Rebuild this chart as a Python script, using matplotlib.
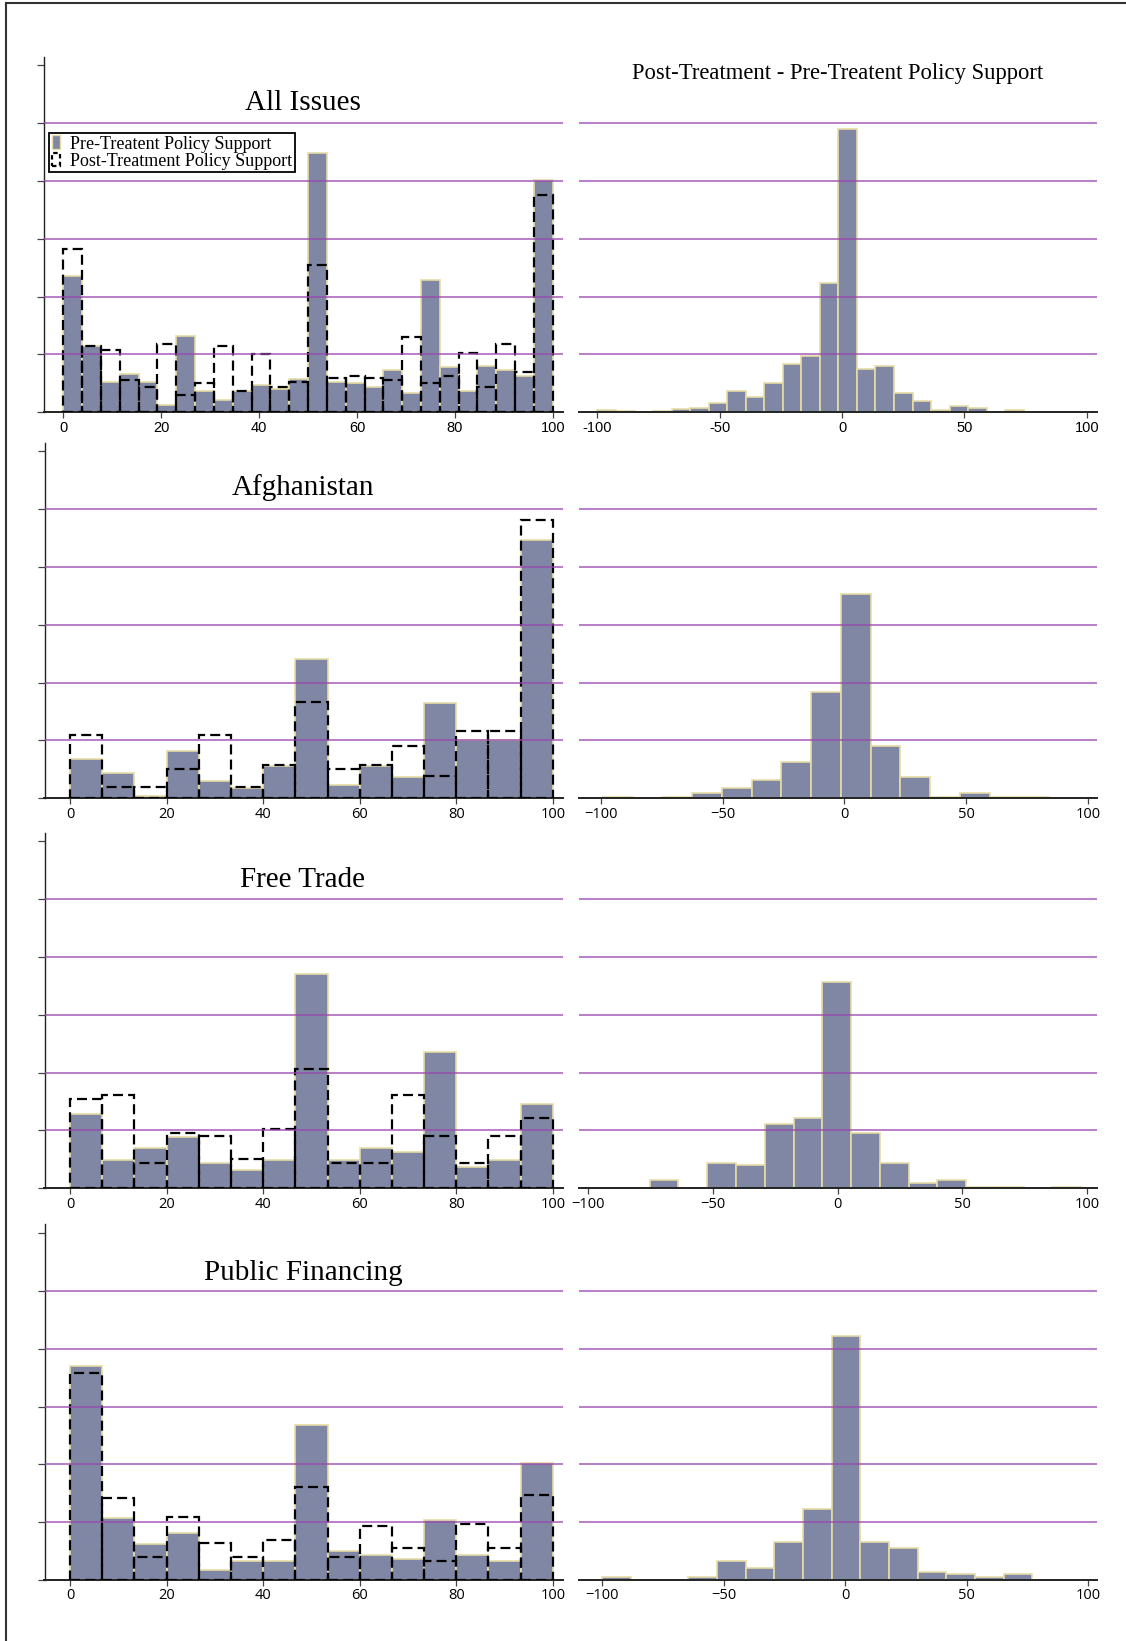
import numpy as np
import matplotlib.pyplot as plt
from matplotlib.patches import Patch
from matplotlib.lines import Line2D

# heights, in gridline units (gridlines at 1..5)
all_pre = [2.35, 1.14, 0.53, 0.66, 0.53, 0.13, 1.32, 0.36, 0.21, 0.36, 0.47, 0.41, 0.57,
           4.49, 0.53, 0.50, 0.44, 0.73, 0.33, 2.29, 0.79, 0.36, 0.80, 0.73, 0.63, 4.02]
all_post = [2.82, 1.15, 1.07, 0.56, 0.44, 1.18, 0.30, 0.51, 1.15, 0.36, 1.01, 0.43, 0.53,
            2.55, 0.59, 0.63, 0.59, 0.56, 1.31, 0.51, 0.63, 1.03, 0.44, 1.18, 0.70, 3.75]
all_diff = [0.04, 0.03, 0.0, 0.02, 0.06, 0.075, 0.16, 0.36, 0.27, 0.51, 0.84, 0.97, 2.24,
            4.90, 0.75, 0.80, 0.34, 0.20, 0.04, 0.11, 0.075, 0.01, 0.04, 0.01, 0.01, 0.01]

afg_pre = [0.68, 0.43, 0.04, 0.82, 0.30, 0.17, 0.56, 2.41, 0.23, 0.56, 0.37, 1.64, 1.01, 1.01, 4.47]
afg_post = [1.10, 0.20, 0.20, 0.51, 1.10, 0.20, 0.58, 1.66, 0.51, 0.58, 0.90, 0.39, 1.16, 1.16, 4.81]
afg_diff = [0.03, 0.0, 0.03, 0.09, 0.17, 0.31, 0.62, 1.84, 3.54, 0.90, 0.37, 0.02, 0.10, 0.02, 0.02]

ft_pre = [1.28, 0.49, 0.69, 0.89, 0.43, 0.32, 0.49, 3.71, 0.49, 0.69, 0.63, 2.36, 0.37, 0.49, 1.46]
ft_post = [1.54, 1.61, 0.44, 0.96, 0.90, 0.51, 1.02, 2.06, 0.44, 0.44, 1.61, 0.90, 0.44, 0.90, 1.21]
ft_diff = [0.0, 0.0, 0.14, 0.0, 0.44, 0.40, 1.11, 1.22, 3.57, 0.96, 0.44, 0.10, 0.14, 0.03, 0.03, 0.0, 0.03]

pf_pre = [3.70, 1.07, 0.63, 0.82, 0.17, 0.32, 0.32, 2.68, 0.50, 0.43, 0.37, 1.03, 0.43, 0.32, 2.03]
pf_post = [3.58, 1.41, 0.39, 1.09, 0.64, 0.39, 0.70, 1.60, 0.39, 0.93, 0.56, 0.32, 0.96, 0.56, 1.47]
pf_diff = [0.06, 0.0, 0.0, 0.06, 0.32, 0.20, 0.65, 1.22, 4.22, 0.65, 0.56, 0.13, 0.10, 0.06, 0.10]

issues = ["All Issues", "Afghanistan", "Free Trade", "Public Financing"]
pre_list = [all_pre, afg_pre, ft_pre, pf_pre]
post_list = [all_post, afg_post, ft_post, pf_post]
diff_list = [all_diff, afg_diff, ft_diff, pf_diff]
# (start, stop) of the difference histogram bins
diff_range = [(-100, 97), (-99.2, 84.1), (-98.3, 97.6), (-100, 77)]

left_ticks = [0, 20, 40, 60, 80, 100]
right_ticks = [-100, -50, 0, 50, 100]
right_labels_top = ['-100', '-50', '0', '50', '100']
right_labels = ['\u2212100', '\u221250', '0', '50', '100']

fill_col = '#7F87A5'
edge_col = '#E6DBA6'
grid_col = '#9A48B0'

W, H = 1126, 1641
fig = plt.figure(figsize=(W / 100, H / 100), dpi=100)

def rect(x0, x1, ytop, ybot):
    return [x0 / W, 1 - ybot / H, (x1 - x0) / W, (ybot - ytop) / H]

baselines = [412.3, 798.3, 1188.3, 1580]
unit = 57.83
ytop_val = 6.15
left_x0 = [43.8, 44.5, 44.5, 44.5]
left_xlim = [(-4.0, 102.1), (-5.3, 102.1), (-5.3, 102.1), (-5.3, 102.1)]
right_xlim = [(-107.7, 104.2), (-109.2, 103.8), (-103.7, 103.9), (-109.7, 103.6)]
title_y = [102.7, 488, 880, 1273]

for i in range(4):
    base = baselines[i]
    top = base - ytop_val * unit
    tick_font = 'Liberation Sans' if i == 0 else 'Open Sans'
    tick_size = 10.5 if i == 0 else 10.5

    # ---- left: pre / post histograms
    ax = fig.add_axes(rect(left_x0[i], 563, top, base))
    pre = np.array(pre_list[i])
    post = np.array(post_list[i])
    n = len(pre)
    edges = np.linspace(0, 100, n + 1)
    w = edges[1] - edges[0]
    ax.bar(edges[:-1], pre, width=w, align='edge', color=fill_col,
           edgecolor=edge_col, linewidth=1.2, zorder=2)
    ax.bar(edges[:-1], post, width=w, align='edge', fill=False,
           edgecolor='black', linewidth=1.6, linestyle=(0, (4.5, 2.3)), zorder=3)
    for g in range(1, 6):
        ax.axhline(g, color=grid_col, alpha=0.7, lw=1.4, zorder=4)
    ax.set_xlim(*left_xlim[i])
    ax.set_ylim(0, ytop_val)
    ax.set_yticks(range(7))
    ax.set_yticklabels([])
    ax.set_xticks(left_ticks)
    ax.set_xticklabels([str(t) for t in left_ticks], family=tick_font, fontsize=tick_size)
    for s in ['top', 'right']:
        ax.spines[s].set_visible(False)
    ax.spines['left'].set_color('#222222')
    ax.spines['left'].set_linewidth(1.0)
    ax.spines['bottom'].set_linewidth(1.4)
    ax.spines['bottom'].set_color('#222222')
    ax.tick_params(axis='x', length=4, width=0.9, pad=2, color='#444444')
    ax.tick_params(axis='y', length=5, width=0.9, color='#444444')
    ax.patch.set_alpha(0)

    fig.text(303 / W, 1 - title_y[i] / H, issues[i], ha='center', va='center',
             family='Liberation Serif', fontsize=21)

    if i == 0:
        handles = [Patch(facecolor=fill_col, edgecolor=edge_col, linewidth=1.0),
                   Patch(fill=False, edgecolor='black', linewidth=1.6, linestyle=(0, (2, 1.5)))]
        leg = ax.legend(handles, ['Pre-Treatent Policy Support', 'Post-Treatment Policy Support'],
                        loc='upper left', bbox_to_anchor=(49.3 / W, 1 - 132.7 / H),
                        bbox_transform=fig.transFigure, prop={'family': 'Liberation Serif', 'size': 13},
                        handlelength=0.45, handleheight=0.8, handletextpad=0.55,
                        borderpad=0.15, labelspacing=0.0, borderaxespad=0,
                        fancybox=False, framealpha=1, edgecolor='black')
        leg.get_frame().set_linewidth(1.3)
        leg.set_zorder(10)

    # ---- right: difference histogram
    ax2 = fig.add_axes(rect(578.6, 1097, top, base))
    d = np.array(diff_list[i])
    m = len(d)
    e2 = np.linspace(diff_range[i][0], diff_range[i][1], m + 1)
    w2 = e2[1] - e2[0]
    keep = d > 0
    ax2.bar(e2[:-1][keep], d[keep], width=w2, align='edge', color=fill_col,
            edgecolor=edge_col, linewidth=1.2, zorder=2)
    for g in range(1, 6):
        ax2.axhline(g, color=grid_col, alpha=0.7, lw=1.4, zorder=4)
    ax2.set_xlim(*right_xlim[i])
    ax2.set_ylim(0, ytop_val)
    ax2.set_yticks([])
    ax2.set_xticks(right_ticks)
    ax2.set_xticklabels(right_labels_top if i == 0 else right_labels,
                        family=tick_font, fontsize=tick_size)
    for s in ['top', 'right', 'left']:
        ax2.spines[s].set_visible(False)
    ax2.spines['bottom'].set_linewidth(1.4)
    ax2.spines['bottom'].set_color('#222222')
    ax2.tick_params(axis='x', length=4, width=0.9, pad=2, color='#444444')
    ax2.patch.set_alpha(0)

fig.text(837.6 / W, 1 - 73.3 / H, 'Post-Treatment - Pre-Treatent Policy Support',
         ha='center', va='center', family='Liberation Serif', fontsize=16.3)

# page frame (top and left edges)
fig.add_artist(Line2D([5.7 / W, 1], [1 - 3.4 / H, 1 - 3.4 / H], color='#333333', lw=1.5))
fig.add_artist(Line2D([5.7 / W, 5.7 / W], [0, 1 - 3.4 / H], color='#333333', lw=1.5))

fig.savefig('out.png', dpi=100)
